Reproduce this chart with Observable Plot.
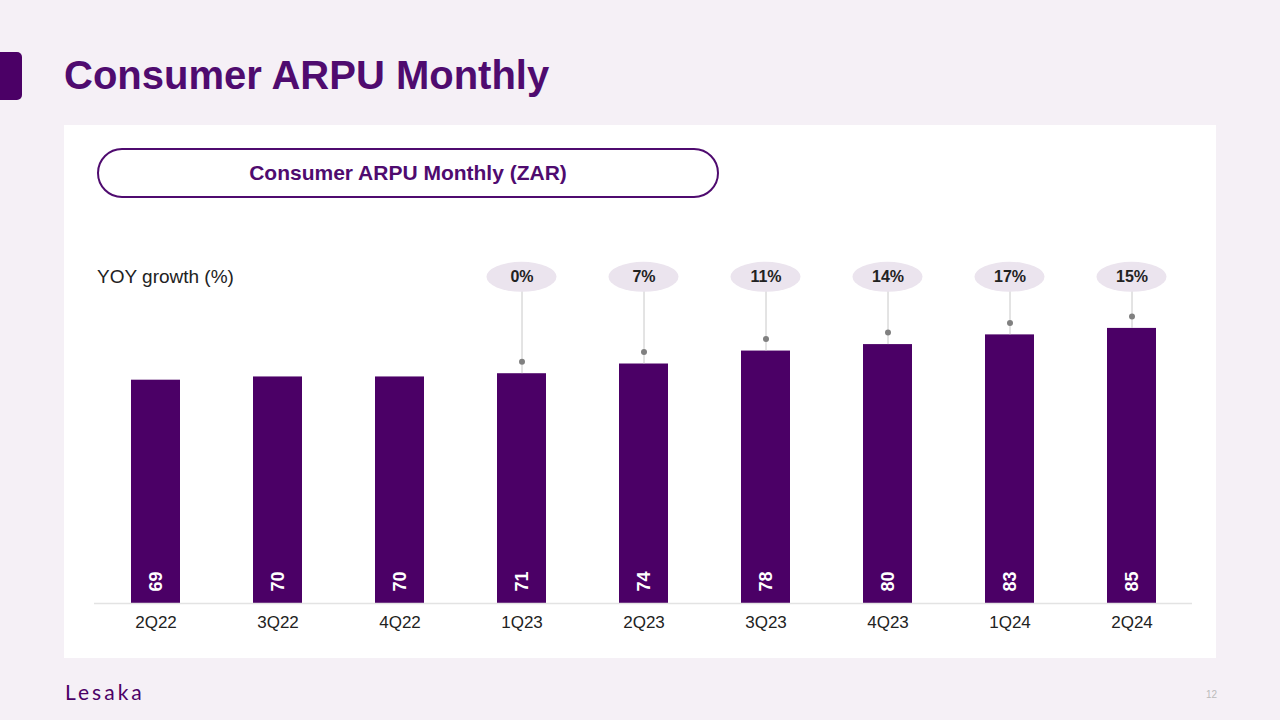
<!DOCTYPE html>
<html>
<head>
<meta charset="utf-8">
<script src="https://cdn.jsdelivr.net/npm/d3@7"></script>
<script src="https://cdn.jsdelivr.net/npm/@observablehq/plot@0.6"></script>
<style>
  html, body { margin: 0; padding: 0; }
  body { width: 1280px; height: 720px; background: #f5f0f6; position: relative; overflow: hidden;
         font-family: "Liberation Sans", Arial, sans-serif; }
  .tab { position: absolute; left: 0; top: 52px; width: 22px; height: 48px; background: #4b0066; border-radius: 0 5px 5px 0; }
  .title { position: absolute; left: 64px; top: 50px; font-size: 40px; font-weight: bold; color: #4f0b6f; line-height: 50px; margin: 0; }
  .panel { position: absolute; left: 64px; top: 125px; width: 1152px; height: 533px; background: #fff; }
  .pill { position: absolute; left: 97px; top: 148px; width: 618px; height: 46px; border: 2px solid #4f0b6f; border-radius: 25px;
          text-align: center; line-height: 46px; font-size: 21px; font-weight: bold; color: #4f0b6f; background: #fff; }
  .yoy { position: absolute; left: 97px; top: 266px; font-size: 19px; color: #222; line-height: 22px; }
  #chart { position: absolute; left: 64px; top: 240px; }
  .logo { position: absolute; left: 65px; top: 680px; font-family: "Lato", sans-serif; font-size: 21px; color: #4b0066; letter-spacing: 3px; line-height: 24px; }
  .page { position: absolute; left: 1206px; top: 689px; font-size: 10px; color: #bbb; }
</style>
</head>
<body>
<div class="tab"></div>
<h1 class="title">Consumer ARPU Monthly</h1>
<div class="panel"></div>
<div class="pill">Consumer ARPU Monthly (ZAR)</div>
<div class="yoy">YOY growth (%)</div>
<div id="chart"></div>
<div class="logo">Lesaka</div>
<div class="page">12</div>
<script>
const categories = ["2Q22", "3Q22", "4Q22", "1Q23", "2Q23", "3Q23", "4Q23", "1Q24", "2Q24"];
const arpu = [69, 70, 70, 71, 74, 78, 80, 83, 85];
const growth = [null, null, null, 0, 7, 11, 14, 17, 15];

const data = categories.map((q, i) => ({q, v: arpu[i], g: growth[i]}));
const gdata = data.filter(d => d.g != null);

const pillMid = 100.8, pillHalf = 4.64;

const chart = Plot.plot({
  width: 1152,
  height: 410,
  marginLeft: 30,
  marginRight: 24,
  marginTop: 7,
  marginBottom: 47,
  style: {fontFamily: "Liberation Sans, Arial, sans-serif", fontSize: "17px", color: "#222", background: "transparent"},
  x: {domain: categories, paddingInner: 0.6, paddingOuter: 0.3, label: null, tickSize: 0, tickPadding: 12},
  y: {domain: [0, 110], axis: null},
  marks: [
    Plot.barY(data, {x: "q", y: "v", fill: "#4b0066"}),
    Plot.ruleY([0], {stroke: "#e3e3e3", strokeWidth: 1.5}),
    Plot.text(data, {x: "q", y: 0, text: d => String(d.v), rotate: -90, dy: -22, fill: "white", fontWeight: "bold", fontSize: 18}),
    Plot.ruleX(gdata, {x: "q", y1: "v", y2: pillMid - pillHalf, stroke: "#c8c8c8", strokeWidth: 1, insetBottom: 12}),
    Plot.dot(gdata, {x: "q", y: "v", dy: -12, r: 3, fill: "#808080", stroke: null}),
    Plot.barY(gdata, {x: "q", y1: pillMid - pillHalf, y2: pillMid + pillHalf, fill: "#ebe4ee", rx: 35, ry: 15, insetLeft: -10.5, insetRight: -10.5}),
    Plot.text(gdata, {x: "q", y: pillMid, text: d => d.g + "%", fontWeight: "bold", fontSize: 16, fill: "#222"})
  ]
});
document.getElementById("chart").appendChild(chart);
</script>
</body>
</html>
